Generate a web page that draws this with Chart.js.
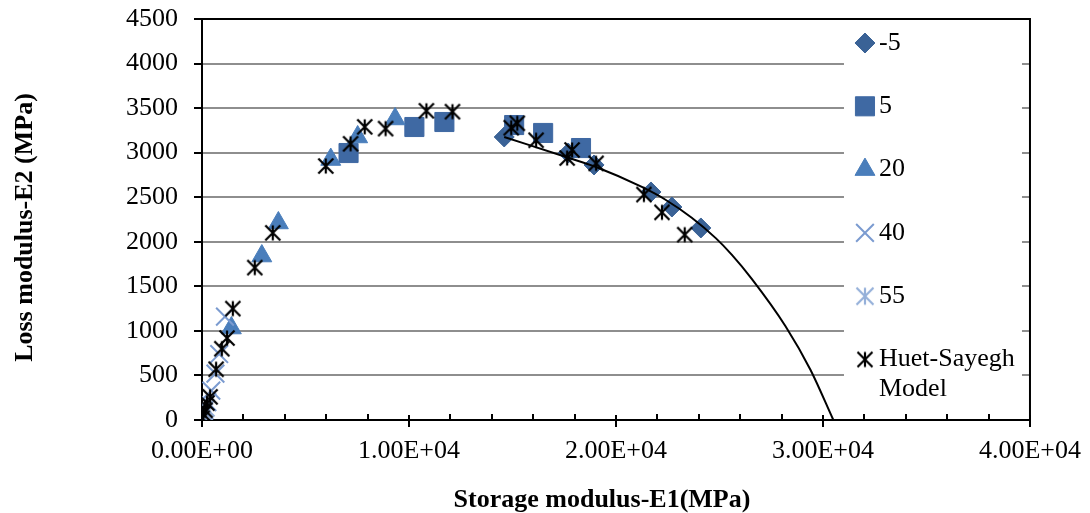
<!DOCTYPE html>
<html>
<head>
<meta charset="utf-8">
<script src="https://cdn.jsdelivr.net/npm/chart.js@4/dist/chart.umd.min.js"></script>
<style>
  html, body { margin: 0; padding: 0; background: #fff; }
</style>
</head>
<body>
<canvas id="modulus" width="1090" height="513"></canvas>
<script>
// storage modulus E1 (MPa) / loss modulus E2 (MPa) per test temperature
const m5E1 = [14600, 17690, 18940, 21690, 22700, 24100];
const m5E2 = [3176, 2996, 2862, 2559, 2390, 2155];

const p5E1 = [7080, 10260, 11710, 15080, 16480, 18310];
const p5E2 = [2996, 3288, 3344, 3310, 3221, 3052];

const p20E1 = [1420, 2890, 3690, 6220, 7520, 9330];
const p20E2 = [1032, 1840, 2211, 2923, 3176, 3378];

const p40E1 = [1110, 830, 650, 450, 260, 110];
const p40E2 = [1160, 740, 520, 330, 200, 110];

const p55E1 = [190, 100, 30, 10];
const p55E2 = [135, 90, 45, 10];

// Huet-Sayegh model, computed points
const hsE1 = [10, 50, 150, 240, 390, 680, 960, 1210, 1490, 2550, 3420, 5980, 7180,
  7860, 8870, 10840, 12100, 14940, 15230, 16140, 17640, 17880, 19040, 21350, 22220, 23320];
const hsE2 = [20, 70, 110, 190, 260, 570, 800, 920, 1250, 1710, 2100, 2850, 3100,
  3290, 3270, 3470, 3460, 3280, 3330, 3140, 2940, 3030, 2880, 2530, 2330, 2080];

// Huet-Sayegh model, fitted curve
const curveE1 = [14600, 17590, 19040, 21250, 22410, 23660, 24820, 25590, 26550, 28190, 29400, 30500];
const curveE2 = [3176, 2951, 2839, 2615, 2469, 2270, 2041, 1856, 1587, 1053, 561, 0];

const xTicks = [0, 10000, 20000, 30000, 40000];

const serif = "'Liberation Serif', 'Times New Roman', serif";
const tickFont = { family: serif, size: 26 };

const pts = (xs, ys) => xs.map((x, i) => ({ x: x, y: ys[i] }));

// Excel style asterisk: an X with a vertical bar
function starMarker(color, size, lw) {
  const c = document.createElement('canvas');
  const s = Math.ceil(size + lw * 2);
  c.width = s;
  c.height = s;
  const g = c.getContext('2d');
  const m = s / 2, h = size / 2;
  g.strokeStyle = color;
  g.lineWidth = lw;
  g.beginPath();
  g.moveTo(m, m - h); g.lineTo(m, m + h);
  g.moveTo(m - h, m - h); g.lineTo(m + h, m + h);
  g.moveTo(m - h, m + h); g.lineTo(m + h, m - h);
  g.stroke();
  return c;
}

function sci(v) {
  if (v === 0) return '0.00E+00';
  const e = Math.floor(Math.log10(Math.abs(v)));
  const m = v / Math.pow(10, e);
  return m.toFixed(2) + 'E' + (e < 0 ? '-' : '+') + String(Math.abs(e)).padStart(2, '0');
}

const datasets = [
  { label: '-5', data: pts(m5E1, m5E2), pointStyle: 'rectRot', pointRadius: 10,
    backgroundColor: '#3a6296', borderColor: '#3a6296', borderWidth: 1, order: 6 },
  { label: '5', data: pts(p5E1, p5E2), pointStyle: 'rect', pointRadius: 13.5,
    backgroundColor: '#3f69a3', borderColor: '#3f69a3', borderWidth: 1, order: 5 },
  { label: '20', data: pts(p20E1, p20E2), pointStyle: 'triangle', pointRadius: 11.5,
    backgroundColor: '#4a7ebb', borderColor: '#4a7ebb', borderWidth: 1, order: 4 },
  { label: '40', data: pts(p40E1, p40E2), pointStyle: 'crossRot', pointRadius: 12.5,
    backgroundColor: '#7b9bd0', borderColor: '#7b9bd0', borderWidth: 2, order: 3 },
  { label: '55', data: pts(p55E1, p55E2), pointStyle: starMarker('#95b0d9', 17, 2.2), pointRadius: 9,
    backgroundColor: '#95b0d9', borderColor: '#95b0d9', borderWidth: 2, order: 2 },
  { label: '', data: pts(curveE1, curveE2), showLine: true, pointRadius: 0,
    borderColor: '#000', borderWidth: 2, cubicInterpolationMode: 'monotone', order: 1 },
  { label: 'Huet-Sayegh\nModel', data: pts(hsE1, hsE2), pointStyle: starMarker('#000', 15, 2.2), pointRadius: 8,
    backgroundColor: '#000', borderColor: '#000', borderWidth: 2, order: 0 }
];

const frame = {
  id: 'frame',
  beforeDatasetsDraw(chart) {
    // legend box sits on top of the grid
    const { ctx, chartArea: a } = chart;
    ctx.save();
    ctx.fillStyle = '#fff';
    ctx.fillRect(a.right - 186, a.top + 1, 178, a.bottom - a.top - 4);
    ctx.restore();
  },
  afterDraw(chart) {
    const { ctx, chartArea: a } = chart;
    const xs = chart.scales.x;
    ctx.save();
    ctx.strokeStyle = '#000';
    ctx.lineWidth = 2;
    ctx.beginPath();
    ctx.moveTo(a.left - 1, a.top);
    ctx.lineTo(a.right, a.top);
    ctx.lineTo(a.right, a.bottom);
    ctx.stroke();

    // x tick marks: majors cross the axis, minors inside
    ctx.beginPath();
    for (let v = 2000; v < 40000; v += 2000) {
      if (v % 10000 === 0) continue;
      const px = Math.round(xs.getPixelForValue(v));
      ctx.moveTo(px, a.bottom - 6);
      ctx.lineTo(px, a.bottom);
    }
    xTicks.forEach(v => {
      const px = Math.round(xs.getPixelForValue(v));
      ctx.moveTo(px, a.bottom - 5);
      ctx.lineTo(px, a.bottom + 7);
    });
    ctx.stroke();

    // axis titles
    ctx.fillStyle = '#000';
    ctx.font = 'bold 26px ' + serif;
    ctx.textAlign = 'center';
    ctx.textBaseline = 'alphabetic';
    ctx.fillText('Storage modulus-E1(MPa)', (a.left + a.right) / 2 - 14, 507);
    ctx.save();
    ctx.translate(32, (a.top + a.bottom) / 2 + 8);
    ctx.rotate(-Math.PI / 2);
    ctx.fillText('Loss modulus-E2 (MPa)', 0, 0);
    ctx.restore();

    // legend
    ctx.font = '26px ' + serif;
    ctx.textAlign = 'left';
    ctx.textBaseline = 'middle';
    const mx = a.right - 165;
    let row = 0;
    chart.data.datasets.forEach(ds => {
      if (!ds.label) return;
      const y = a.top + 24 + row * 63.3;
      ctx.fillStyle = ds.backgroundColor;
      ctx.strokeStyle = ds.borderColor;
      ctx.lineWidth = ds.borderWidth;
      Chart.helpers.drawPoint(ctx, {
        pointStyle: ds.pointStyle, radius: ds.pointRadius, rotation: 0, borderWidth: ds.borderWidth
      }, mx, y);
      ctx.fillStyle = '#000';
      ds.label.split('\n').forEach((line, i) => ctx.fillText(line, mx + 14, y + i * 30));
      row++;
    });
    ctx.restore();
  }
};

new Chart(document.getElementById('modulus'), {
  type: 'scatter',
  data: { datasets: datasets },
  plugins: [frame],
  options: {
    responsive: false,
    animation: false,
    events: [],
    layout: { padding: { top: 19, right: 58, left: 0, bottom: 0 } },
    plugins: { legend: { display: false }, tooltip: { enabled: false } },
    scales: {
      x: {
        type: 'linear', min: 0, max: 40000,
        afterFit: s => { s.height = 93; },
        grid: { display: false, drawTicks: true, tickLength: 7 },
        border: { display: true, color: '#000', width: 2 },
        ticks: { stepSize: 10000, padding: 9, color: '#000', font: tickFont, maxRotation: 0, callback: sci }
      },
      y: {
        type: 'linear', min: 0, max: 4500,
        afterFit: s => { s.width = 202; s.paddingTop = 0; s.paddingBottom = 0; },
        grid: { color: '#8e8e8e', lineWidth: 2, tickColor: '#000', tickLength: 8, tickWidth: 2 },
        border: { color: '#000', width: 2 },
        ticks: { stepSize: 500, padding: 16, color: '#000', font: tickFont, callback: v => String(v) }
      }
    }
  }
});
</script>
</body>
</html>
